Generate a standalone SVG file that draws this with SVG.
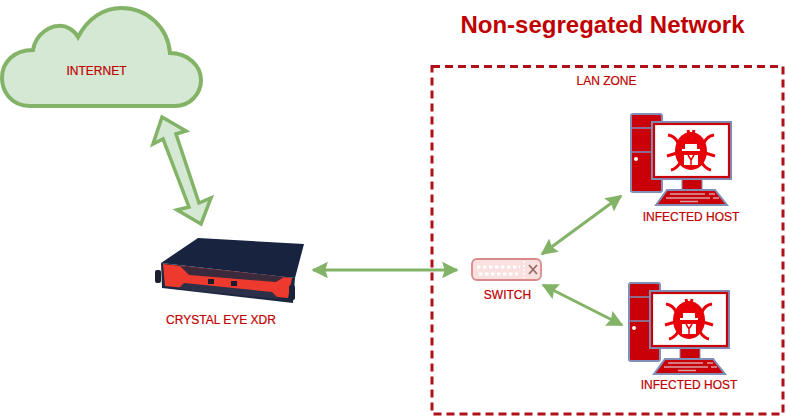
<svg xmlns="http://www.w3.org/2000/svg" width="786" height="419" viewBox="0 0 786 419">
<style>
text{font-family:"Liberation Sans",Arial,sans-serif;fill:#c00000;text-anchor:middle}
.lbl{font-size:12px;stroke:#c00000;stroke-width:.2}
.conn{fill:none;stroke:#82b366;stroke-width:3;marker-start:url(#ah);marker-end:url(#ah)}
.ln{fill:none;stroke:#7f8fb8;stroke-width:1.5}
</style>
<defs>
<marker id="ah" viewBox="0 0 10 10" refX="9" refY="5" markerWidth="5.500" markerHeight="5.500" orient="auto-start-reverse"><path d="M0 0L10 5L0 10L1.500 5Z" fill="#82b366"/></marker>
<g id="pc">
<rect x="631" y="114" width="31" height="78" rx="2" fill="#c90008" stroke="#7f8fb8" stroke-width="2"/>
<path class="ln" d="M631 128H662M631 152H652"/>
<circle cx="636" cy="159" r="2" fill="#fff"/>
<rect x="682" y="179" width="20" height="11" fill="#c90008" stroke="#7f8fb8" stroke-width="1"/>
<path d="M656 205L667 190H715L727 205Z" fill="#c90008" stroke="#7f8fb8" stroke-width="2"/>
<path d="M670 194H705M709 194H715M666 198H710M713 198H719M680 201.500H698" stroke="#d9a0a8" stroke-width="1.300" fill="none"/>
<rect x="652" y="122" width="79" height="57" fill="#fff" stroke="#7f8fb8" stroke-width="2"/>
<rect x="654" y="124" width="75" height="53" fill="none" stroke="#c90008" stroke-width="2.200"/>
<g fill="none" stroke="#e80008" stroke-width="3">
<path d="M678 143Q675 136 668 135M704 143Q707 136 714 135M677 153L667 156M705 153L715 156M680 163Q676 169 671 170M702 163Q706 169 711 170M689 134L688 130M693 134L694 130"/>
</g>
<ellipse cx="691" cy="151" rx="16" ry="19" fill="#e80008"/>
<path d="M685 149V144H697V149H700V151H682V149Z" fill="#fff"/>
<path d="M684 155H698V165H684Z" fill="#fff"/>
<path d="M688 155L691 160L694 155M691 160V165" stroke="#e80008" stroke-width="1.500" fill="none"/>
</g>
</defs>

<g id="connectors">
<path d="M162 117L186 131L176 134L199 203L211 198L201 224L177 210L189 207L163 139L153 144Z" fill="#d5e8d4" stroke="#82b366" stroke-width="3.500" stroke-linejoin="miter"/>
<path class="conn" d="M313 270H457"/>
<path class="conn" d="M542 254L621 196"/>
<path class="conn" d="M543 285L622 325"/>
</g>

<g id="internet">
<path d="M30 106C10 106 2 90 2 78C2 62 14 50 33 50C36 32 52 26 58 26C66 25 74 30 78 37C88 18 104 8 121 8C148 8 168 28 170 53C188 53 201 66 201 80C201 94 190 106 175 106Z" fill="#d5e8d4" stroke="#82b366" stroke-width="4"/>
<text class="lbl" x="96.500" y="75">INTERNET</text>
</g>

<g id="title"><text x="602.500" y="33" style="font-size:24px;font-weight:700">Non-segregated Network</text></g>

<g id="lan-zone">
<rect x="432" y="66.500" width="351" height="347.500" fill="none" stroke="#b01018" stroke-width="3" stroke-dasharray="8 5"/>
<text class="lbl" x="606.500" y="84.500">LAN ZONE</text>
</g>

<g id="crystal-eye">
<path d="M198 238L304 244L295 278L161 263Z" fill="#17233f"/>
<path d="M161 263L295 278L293 303L162 288Z" fill="#1c2740"/>
<path d="M163 264L292 278L288 298L165 286Z" fill="#ee3a2e"/>
<path d="M180 266L284 277L276 282L189 275Z" fill="#3a2a3c"/>
<path d="M184 283L272 292L279 299L178 289Z" fill="#2c3048"/>
<rect x="208" y="279" width="6" height="5" fill="#1a1a2a"/>
<rect x="231" y="281" width="6" height="5" fill="#1a1a2a"/>
<rect x="155" y="270" width="6" height="13" rx="2" fill="#1b1f2e"/>
<rect x="289" y="285" width="6" height="15" rx="2" fill="#1b2338"/>
<text class="lbl" x="221" y="324">CRYSTAL EYE XDR</text>
</g>

<g id="switch">
<rect x="472" y="259" width="69" height="21" rx="5" fill="#fbe0e0" stroke="#d98a8a" stroke-width="1.800"/>
<path d="M477 267H520M479 274H518" stroke="#fff" stroke-width="3" stroke-dasharray="3.500 2.500" fill="none"/>
<path d="M524 261V278" stroke="#fff" stroke-width="1.500" stroke-dasharray="2 2"/>
<path d="M529 265L537 274M537 265L529 274" stroke="#9b6a6a" stroke-width="1.800"/>
<text class="lbl" x="507.500" y="299">SWITCH</text>
</g>

<g id="host-1"><use href="#pc"/><text class="lbl" x="691" y="221">INFECTED HOST</text></g>
<g id="host-2"><use href="#pc" x="-2" y="169"/><text class="lbl" x="689" y="389">INFECTED HOST</text></g>
</svg>
